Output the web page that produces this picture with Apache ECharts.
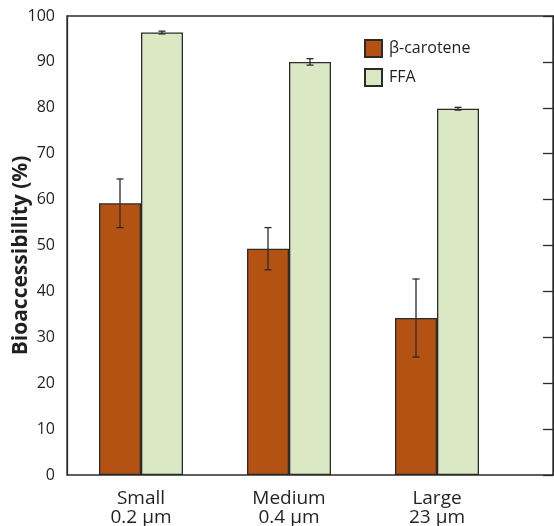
<!DOCTYPE html>
<html><head><meta charset="utf-8">
<script src="https://cdn.jsdelivr.net/npm/echarts@6/dist/echarts.min.js"></script>
<style>html,body{margin:0;padding:0;background:#fff}#c{width:554px;height:526px}</style>
</head><body><div id="c"></div>
<script>
const categories = ['Small\n0.2 μm', 'Medium\n0.4 μm', 'Large\n23 μm'];
const betaCarotene = [59.2, 49.3, 34.2];
const betaErr = [5.3, 4.6, 8.5];
const ffa = [96.4, 90.0, 79.8];
const ffaErr = [0.3, 0.7, 0.3];
const yTicks = [0, 10, 20, 30, 40, 50, 60, 70, 80, 90, 100];

const FONT = '"Open Sans", "Noto Sans", sans-serif';
const INK = '#231f20';
const LINE = '#2b2b2b';
const BAR_W = 42;
const chart = echarts.init(document.getElementById('c'));

function errSeries(vals, errs, dx) {
  return {
    type: 'custom', z: 5, xAxisIndex: 0, yAxisIndex: 0,
    data: vals.map((v, i) => [i, v, errs[i]]),
    renderItem: function (params, api) {
      const x = api.value(0), v = api.value(1), e = api.value(2);
      const top = api.coord([x, v + e]);
      const bot = api.coord([x, v - e]);
      const cx = top[0] + dx, cw = 3.5;
      const st = { stroke: LINE, lineWidth: 1.3 };
      return { type: 'group', children: [
        { type: 'line', shape: { x1: cx, y1: top[1], x2: cx, y2: bot[1] }, style: st },
        { type: 'line', shape: { x1: cx - cw, y1: top[1], x2: cx + cw, y2: top[1] }, style: st },
        { type: 'line', shape: { x1: cx - cw, y1: bot[1], x2: cx + cw, y2: bot[1] }, style: st }
      ]};
    }
  };
}

chart.setOption({
  animation: false,
  textStyle: { fontFamily: FONT },
  grid: [
    { left: 67, width: 444, top: 16, bottom: 51, show: false, containLabel: false, outerBoundsMode: 'none' },
    { left: 67, right: 1, top: 16, bottom: 51, show: true, borderColor: LINE, borderWidth: 1.3, z: 10,
      containLabel: false, outerBoundsMode: 'none' }
  ],
  legend: {
    orient: 'vertical', left: 359, top: 34, itemWidth: 17, itemHeight: 17, itemGap: 10,
    icon: 'rect',
    data: ['β-carotene', 'FFA'],
    textStyle: { fontFamily: FONT, fontSize: 16, color: INK, padding: [0, 0, 0, 2] }
  },
  xAxis: [{
    type: 'category', gridIndex: 0, data: categories,
    axisTick: { show: false },
    axisLine: { show: false },
    axisLabel: { margin: 14, fontSize: 19, color: INK, lineHeight: 19, fontFamily: FONT }
  }, {
    type: 'value', gridIndex: 1, min: 0, max: 1, show: false
  }],
  yAxis: [{
    type: 'value', gridIndex: 0, min: 0, max: 100, interval: 10,
    name: 'Bioaccessibility (%)', nameLocation: 'middle', nameGap: 35, nameMoveOverlap: false,
    nameTextStyle: { fontFamily: FONT, fontSize: 21, fontWeight: 'bold', color: INK, padding: [0, 20, 0, 0] },
    splitLine: { show: false },
    axisLine: { show: true, onZero: false, lineStyle: { color: LINE, width: 1.3 } },
    axisTick: { inside: true, length: 10, lineStyle: { color: LINE, width: 1.3 } },
    axisLabel: { margin: 12, fontSize: 16, color: INK, fontFamily: FONT,
      formatter: v => yTicks.includes(v) ? String(v) : '' }
  }, {
    type: 'value', gridIndex: 1, min: 0, max: 100, interval: 10, position: 'right',
    splitLine: { show: false },
    axisLine: { show: true, onZero: false, lineStyle: { color: LINE, width: 1.3 } },
    axisTick: { inside: true, length: 10, lineStyle: { color: LINE, width: 1.3 } },
    axisLabel: { show: false }
  }],
  series: [
    { name: 'β-carotene', type: 'bar', xAxisIndex: 0, yAxisIndex: 0, barWidth: BAR_W, barGap: '0%',
      data: betaCarotene,
      itemStyle: { color: '#B35212', borderColor: LINE, borderWidth: 1.3 } },
    { name: 'FFA', type: 'bar', xAxisIndex: 0, yAxisIndex: 0, barWidth: BAR_W, barGap: '0%',
      data: ffa,
      itemStyle: { color: '#DAE8C3', borderColor: LINE, borderWidth: 1.3 } },
    errSeries(betaCarotene, betaErr, -BAR_W / 2),
    errSeries(ffa, ffaErr, BAR_W / 2)
  ]
});
</script></body></html>
